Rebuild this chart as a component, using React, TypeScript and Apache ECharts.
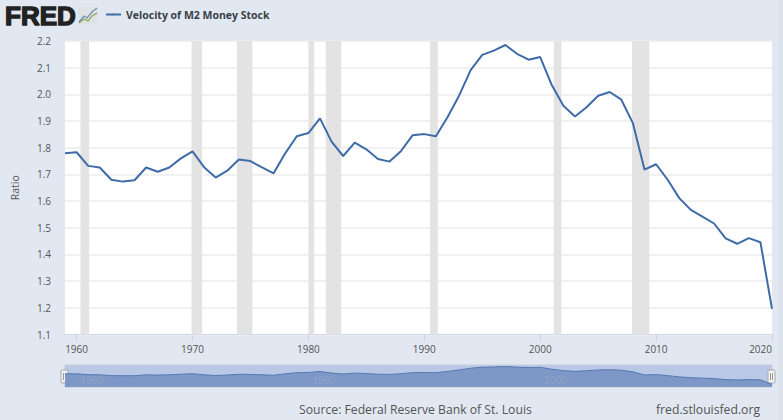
import React, { useEffect, useRef } from "react";
import * as echarts from "echarts";

const years = [
  1959, 1960, 1961, 1962, 1963, 1964, 1965, 1966, 1967, 1968, 1969, 1970, 1971, 1972, 1973, 1974,
  1975, 1976, 1977, 1978, 1979, 1980, 1981, 1982, 1983, 1984, 1985, 1986, 1987, 1988, 1989, 1990,
  1991, 1992, 1993, 1994, 1995, 1996, 1997, 1998, 1999, 2000, 2001, 2002, 2003, 2004, 2005, 2006,
  2007, 2008, 2009, 2010, 2011, 2012, 2013, 2014, 2015, 2016, 2017, 2018, 2019, 2020,
];
const velocity = [
  1.779, 1.783, 1.732, 1.726, 1.68, 1.673, 1.678, 1.726, 1.71, 1.726, 1.76, 1.786, 1.727, 1.688,
  1.714, 1.756, 1.75, 1.726, 1.704, 1.779, 1.843, 1.855, 1.91, 1.823, 1.769, 1.819, 1.794, 1.758,
  1.748, 1.788, 1.847, 1.851, 1.843, 1.914, 1.995, 2.091, 2.148, 2.164, 2.185, 2.152, 2.13, 2.14,
  2.035, 1.957, 1.917, 1.952, 1.995, 2.009, 1.98, 1.892, 1.718, 1.738, 1.68, 1.611, 1.567, 1.542,
  1.516, 1.46, 1.44, 1.461, 1.446, 1.196,
];
const recessions = [
  [1960.33, 1961.08],
  [1969.92, 1970.83],
  [1973.83, 1975.17],
  [1980.0, 1980.5],
  [1981.5, 1982.83],
  [1990.5, 1991.17],
  [2001.17, 2001.83],
  [2007.92, 2009.42],
];
const xTicks = [1960, 1970, 1980, 1990, 2000, 2010, 2020];
const navTicks = [1960, 1980, 2000];
const seriesName = "Velocity of M2 Money Stock";
const yAxisName = "Ratio";
const sourceText = "Source: Federal Reserve Bank of St. Louis";
const siteText = "fred.stlouisfed.org";

const BG = "#e1e8f1";
const FONT = "'Open Sans', sans-serif";
const LINE = "#3f6ca8";

function handle(x: number) {
  return {
    type: "group",
    x,
    y: 370,
    children: [
      { type: "rect", shape: { x: 0, y: 0, width: 7, height: 13, r: 1 }, style: { fill: "#f2f2f2", stroke: "#a8a8a8", lineWidth: 1 } },
      { type: "line", shape: { x1: 2.5, y1: 3, x2: 2.5, y2: 10 }, style: { stroke: "#999", lineWidth: 1 } },
      { type: "line", shape: { x1: 4.5, y1: 3, x2: 4.5, y2: 10 }, style: { stroke: "#999", lineWidth: 1 } },
    ],
  };
}

export default function App() {
  const ref = useRef<HTMLDivElement>(null);
  useEffect(() => {
    document.body.style.margin = "0";
    document.body.style.background = BG;
    const chart = echarts.init(ref.current!, null, { renderer: "svg" });
    const data = years.map((y, i) => [y, velocity[i]]);
    chart.setOption({
      animation: false,
      backgroundColor: BG,
      textStyle: { fontFamily: FONT },
      legend: {
        left: 100,
        top: 4,
        data: [seriesName],
        itemWidth: 15,
        itemHeight: 2,
        itemGap: 4,
        selectedMode: false,
        textStyle: { fontFamily: FONT, fontSize: 10.5, fontWeight: "bold", color: "#3a3f48" },
      },
      grid: [
        { left: 65, top: 41, width: 707, height: 293.5, show: true, backgroundColor: "#fff", borderWidth: 0, outerBoundsMode: "none" },
        { left: 65, top: 365, width: 707, height: 22, show: true, backgroundColor: "#b9c9e5", borderColor: "#c5ccd8", borderWidth: 1, outerBoundsMode: "none" },
      ],
      xAxis: [
        {
          type: "value",
          gridIndex: 0,
          min: 1959,
          max: 2020,
          splitLine: { show: false },
          axisLine: { show: true, lineStyle: { color: "#ccd6eb" } },
          axisTick: { show: true, length: 7, customValues: xTicks, lineStyle: { color: "#ccd6eb" } },
          axisLabel: {
            customValues: xTicks,
            formatter: (v: number) => String(v),
            alignMaxLabel: "right",
            color: "#555",
            fontSize: 10,
            margin: 9,
            fontFamily: FONT,
          },
        },
        {
          type: "value",
          gridIndex: 1,
          min: 1959,
          max: 2020,
          z: 10,
          splitLine: { show: false },
          axisLine: { show: false },
          axisTick: { show: false },
          axisLabel: {
            inside: true,
            customValues: navTicks,
            formatter: (v: number) => String(v),
            align: "left",
            padding: [0, 0, 0, 4],
            margin: 2,
            color: "#8ea5cc",
            fontSize: 10,
            fontFamily: FONT,
          },
        },
      ],
      yAxis: [
        {
          type: "value",
          gridIndex: 0,
          min: 1.1,
          max: 2.2,
          interval: 0.1,
          name: yAxisName,
          nameLocation: "middle",
          nameGap: 45,
          nameTextStyle: { color: "#555", fontSize: 10.5, fontFamily: FONT },
          axisLine: { show: false },
          axisTick: { show: false },
          splitLine: { show: true, lineStyle: { color: "#ececec", width: 1.5 } },
          axisLabel: {
            formatter: (v: number) => v.toFixed(1),
            color: "#555",
            fontSize: 10,
            margin: 14,
            fontFamily: FONT,
          },
        },
        {
          type: "value",
          gridIndex: 1,
          min: 1.05,
          max: 2.27,
          show: false,
          splitLine: { show: false },
        },
      ],
      series: [
        {
          name: seriesName,
          type: "line",
          xAxisIndex: 0,
          yAxisIndex: 0,
          data,
          symbol: "none",
          lineStyle: { color: LINE, width: 2 },
          itemStyle: { color: LINE },
          z: 5,
          markArea: {
            silent: true,
            itemStyle: { color: "#e3e3e3" },
            data: recessions.map(([a, b]) => [{ xAxis: a }, { xAxis: b }]),
          },
        },
        {
          name: "navigator",
          type: "line",
          xAxisIndex: 1,
          yAxisIndex: 1,
          data,
          symbol: "none",
          lineStyle: { color: "#5578b4", width: 1 },
          areaStyle: { color: "#7d98c6", opacity: 1, origin: "start" },
        },
      ],
      graphic: [
        { type: "rect", z: -1, shape: { x: 778, y: 0, width: 5, height: 420 }, style: { fill: "#dbe3ec" } },
        {
          type: "text",
          x: 5,
          y: 3,
          style: { text: "FRED", fontFamily: "'Liberation Sans', Arial, sans-serif", fontWeight: 900, fontSize: 26, fill: "#222", stroke: "#222", lineWidth: 1.4 },
        },
        { type: "rect", shape: { x: 78, y: 7, width: 20, height: 17 }, style: { fill: "#dfe3e6" } },
        { type: "polyline", shape: { points: [[79, 22], [84, 16], [87, 18], [92, 12], [97, 8]] }, style: { stroke: "#6f8fb0", fill: "none", lineWidth: 1.2 } },
        { type: "polyline", shape: { points: [[79, 23], [84, 19], [88, 21], [92, 16], [97, 13]] }, style: { stroke: "#86a652", fill: "none", lineWidth: 1.2 } },
        handle(61),
        handle(768),
        { type: "text", x: 299, y: 403, style: { text: sourceText, fontFamily: FONT, fontSize: 12.2, fill: "#555" } },
        { type: "text", x: 656, y: 403, style: { text: siteText, fontFamily: FONT, fontSize: 12.2, fill: "#555" } },
      ],
    });
    return () => chart.dispose();
  }, []);
  return <div ref={ref} style={{ width: 783, height: 420 }} />;
}
